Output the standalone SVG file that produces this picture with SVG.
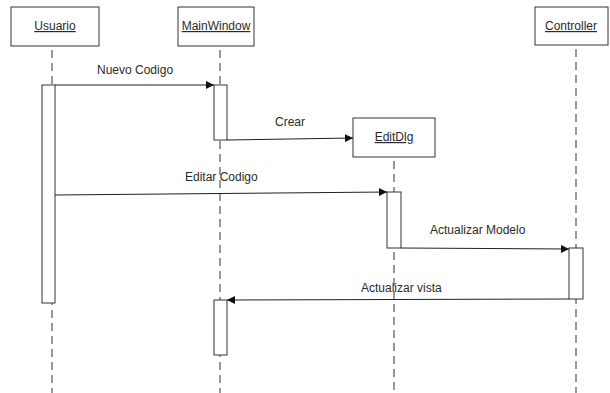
<svg xmlns="http://www.w3.org/2000/svg" width="610" height="393" viewBox="0 0 610 393">
<style>
.box{fill:#fff;stroke:#333;stroke-width:1}
.life{stroke:#333;stroke-width:1;stroke-dasharray:8,5;fill:none}
.act{fill:#fff;stroke:#333;stroke-width:1}
.msg{stroke:#222;stroke-width:1;fill:none;marker-end:url(#ah)}
.t{font-family:"Liberation Sans",Arial,sans-serif;font-size:12px;fill:#2a2a2a}
.u{text-decoration:underline;text-anchor:middle}
</style>
<defs>
<marker id="ah" viewBox="0 0 10 10" refX="10" refY="5" markerWidth="8" markerHeight="8" markerUnits="userSpaceOnUse" orient="auto">
<path d="M0,0 L10,5 L0,10 z" fill="#111"/>
</marker>
</defs>
<rect width="610" height="393" fill="#fff"/>
<g id="usuario">
<rect class="box" x="11" y="7" width="88" height="39"/>
<text class="t u" x="55" y="30">Usuario</text>
<line class="life" x1="52" y1="50" x2="52" y2="393"/>
<rect class="act" x="42" y="85" width="13" height="218"/>
</g>
<g id="mainwindow">
<rect class="box" x="178" y="7" width="76" height="39"/>
<text class="t u" x="216" y="30">MainWindow</text>
<line class="life" x1="220" y1="50" x2="220" y2="393"/>
<rect class="act" x="214" y="85" width="13" height="55"/>
<rect class="act" x="214" y="300" width="13" height="55"/>
</g>
<g id="editdlg">
<rect class="box" x="353" y="118" width="82" height="39"/>
<text class="t u" x="394" y="141">EditDlg</text>
<line class="life" x1="394" y1="161" x2="394" y2="393"/>
<rect class="act" x="387" y="192" width="14" height="56"/>
</g>
<g id="controller">
<rect class="box" x="535" y="7" width="73" height="38"/>
<text class="t u" x="571" y="30">Controller</text>
<line class="life" x1="576" y1="49" x2="576" y2="393"/>
<rect class="act" x="569" y="248" width="14" height="51"/>
</g>
<g id="connectors">
<line class="msg" x1="55" y1="85" x2="214" y2="85"/>
<text class="t" x="97" y="74">Nuevo Codigo</text>
<line class="msg" x1="227" y1="140" x2="353" y2="138"/>
<text class="t" x="275" y="126">Crear</text>
<line class="msg" x1="55" y1="195" x2="387" y2="192"/>
<text class="t" x="185" y="181">Editar Codigo</text>
<line class="msg" x1="401" y1="248" x2="569" y2="249"/>
<text class="t" x="430" y="234">Actualizar Modelo</text>
<line class="msg" x1="569" y1="299" x2="227" y2="300"/>
<text class="t" x="361" y="292">Actualizar vista</text>
</g>
</svg>
